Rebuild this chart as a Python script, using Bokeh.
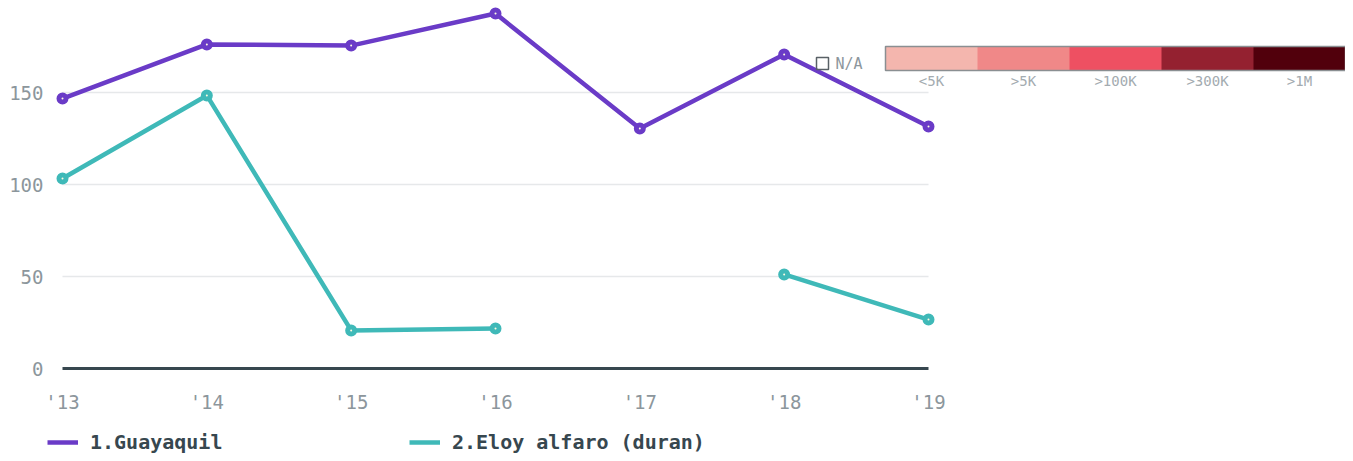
from bokeh.plotting import figure
from bokeh.models import (Range1d, FixedTicker, Legend, LegendItem, ColorBar,
                          LinearColorMapper, Label, BoxAnnotation)
from bokeh.core.properties import value
from bokeh.embed import file_html
from bokeh.resources import INLINE

# ---- data ----
years = [2013, 2014, 2015, 2016, 2017, 2018, 2019]
year_labels = ["'13", "'14", "'15", "'16", "'17", "'18", "'19"]
guayaquil = [146.7, 176.1, 175.5, 192.9, 130.4, 170.7, 131.5]
eloy_alfaro = [103.3, 148.4, 20.7, 21.7, float("nan"), 51.1, 26.6]
series_names = ["1.Guayaquil", "2.Eloy alfaro (duran)"]
series_colors = ["#6a3bc7", "#3fb9b8"]
y_ticks = [0, 50, 100, 150]
bin_labels = ["<5K", ">5K", ">100K", ">300K", ">1M"]
bin_colors = ["#f4b6ae", "#f08888", "#ee5062", "#942130", "#51000c"]
na_label = "N/A"

MONO = "DejaVu Sans Mono"
GREY = "#8c969c"
DARK = "#37474f"

W, H = 1345, 453
LEFT = 47          # frame left (canvas px)
PX_PER_YEAR = 866 / 6
PX_PER_UNIT = 1.84
x0 = years[0] - 15 / PX_PER_YEAR
x1 = x0 + (W - LEFT) / PX_PER_YEAR
y1 = 368 / PX_PER_UNIT
y0 = -(H - 368) / PX_PER_UNIT

def px_x(px):  # canvas px -> data x
    return x0 + (px - LEFT) / PX_PER_YEAR

def px_y(py):  # canvas px -> data y
    return (368 - py) / PX_PER_UNIT

p = figure(width=W, height=H, output_backend="svg", toolbar_location=None,
           x_range=Range1d(x0, x1), y_range=Range1d(y0, y1),
           x_axis_location=None,
           min_border_left=LEFT, min_border_right=0, min_border_top=0,
           min_border_bottom=0, outline_line_color=None)
p.xgrid.visible = False
p.ygrid.visible = False

# y axis
ax = p.yaxis[0]
ax.ticker = FixedTicker(ticks=y_ticks)
ax.axis_line_color = None
ax.major_tick_line_color = None
ax.minor_tick_line_color = None
ax.major_tick_out = 0
ax.major_tick_in = 0
ax.major_label_text_font = MONO
ax.major_label_text_font_size = "19px"
ax.major_label_text_color = GREY
ax.major_label_standoff = 4

# x tick labels (years)
p.text(x=years, y=[px_y(401)] * len(years), text=year_labels,
       text_font=value(MONO), text_font_size=value("19px"), text_color=GREY,
       text_align="center", text_baseline="middle")

# grid lines and zero line
p.segment(x0=[years[0]] * 3, x1=[years[-1]] * 3, y0=y_ticks[1:], y1=y_ticks[1:],
          line_color="#e6e8ea", line_width=1.5)
p.segment(x0=[years[0]], x1=[years[-1]], y0=[0], y1=[0], line_color=DARK, line_width=3)

renderers = []
for vals, c in zip([guayaquil, eloy_alfaro], series_colors):
    r = p.line(years, vals, line_color=c, line_width=4.5)
    p.scatter(years, vals, size=7, fill_color="#fffbe0", line_color=c, line_width=5)
    renderers.append(r)

legend = Legend(items=[LegendItem(label=n, renderers=[r]) for n, r in zip(series_names, renderers)],
                orientation="horizontal", location=(0, -1),
                glyph_width=31, glyph_height=20, label_height=20, label_standoff=12,
                label_width=319, spacing=0, padding=0, margin=0,
                border_line_color=None, background_fill_alpha=0,
                label_text_font=MONO, label_text_font_style="bold",
                label_text_font_size="20px", label_text_color=DARK)
p.add_layout(legend)

# colour scale legend
mapper = LinearColorMapper(palette=bin_colors, low=0, high=len(bin_colors))
cb = ColorBar(color_mapper=mapper, orientation="horizontal", width=460, height=24,
              location=(885 - LEFT, H - 91), padding=0, margin=0,
              ticker=FixedTicker(ticks=[i + 0.5 for i in range(len(bin_labels))]),
              major_label_overrides={i + 0.5: l for i, l in enumerate(bin_labels)},
              major_tick_line_color=None, minor_tick_line_color=None,
              bar_line_color="#8a8f92", bar_line_width=1.5,
              major_label_text_font=MONO, major_label_text_font_size="14px",
              major_label_text_color="#a3abb0", label_standoff=2,
              background_fill_alpha=0, border_line_color=None)
p.add_layout(cb)

p.add_layout(BoxAnnotation(left=px_x(816), right=px_x(828), top=px_y(57), bottom=px_y(69),
                           fill_alpha=0, line_color="#596166", line_alpha=1.0, line_width=1.5))
p.add_layout(Label(x=px_x(835), y=px_y(63), text=na_label, text_font=MONO,
                   text_font_size="15px", text_color=GREY, text_baseline="middle"))

open("out.html", "w").write(file_html(p, INLINE))
